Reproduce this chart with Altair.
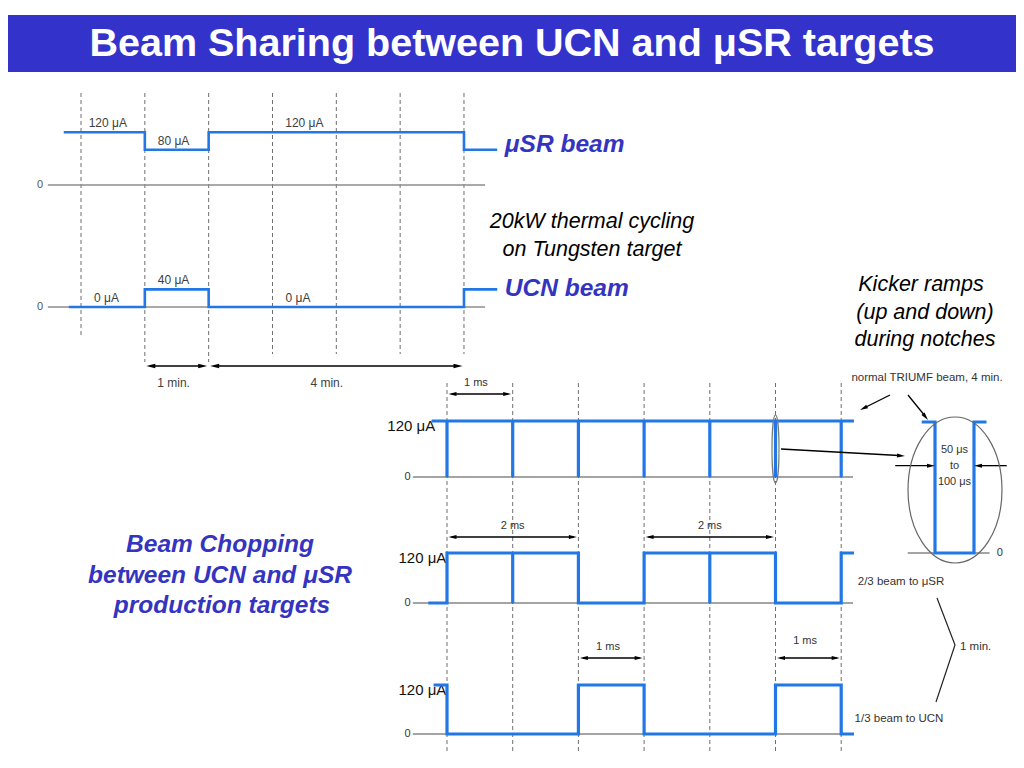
import math
import altair as alt
import pandas as pd

# ---------------------------------------------------------------- data
TITLE = "Beam Sharing between UCN and μSR targets"

# upper timing diagram: time in minutes, beam current in µA
cyc_musr_t = [-0.25, 1, 1, 2, 2, 6, 6, 6.5]
cyc_musr_uA = [120, 120, 80, 80, 120, 120, 80, 80]
cyc_ucn_t = [-0.17, 1, 1, 2, 2, 6, 6, 6.5]
cyc_ucn_uA = [0, 0, 40, 40, 0, 0, 40, 40]
cyc_grid_min = [0, 1, 2, 3, 4, 5, 6]
cyc_axis_min = [-0.52, 6.33]
cyc_label_text = ["120 μA", "80 μA", "120 μA", "0 μA", "40 μA", "0 μA"]
cyc_label_row = ["musr", "musr", "musr", "ucn", "ucn", "ucn"]
cyc_label_t = [0.42, 1.45, 3.5, 0.4, 1.45, 3.4]
cyc_label_uA = [120, 80, 120, 0, 40, 0]
cyc_span_from = [1, 2]
cyc_span_to = [2, 6]
cyc_span_text = ["1 min.", "4 min."]
cyc_span_label_t = [1.45, 3.85]

# lower timing diagrams: time in ms, beam current in µA
chop_grid_ms = [0, 1, 2, 3, 4, 5, 6]
chop_axis_ms = [-0.52, 6.18]
normal_t = [-0.21, 0, 0, 0, 1, 1, 1, 2, 2, 2, 3, 3, 3, 4, 4, 4, 5, 5, 5, 6, 6, 6, 6.17]
normal_uA = [120, 120, 0, 120, 120, 0, 120, 120, 0, 120, 120, 0, 120,
             120, 0, 120, 120, 0, 120, 120, 0, 120, 120]
musr23_t = [-0.26, 0, 0, 1, 1, 1, 2, 2, 3, 3, 4, 4, 4, 5, 5, 6, 6, 6.17]
musr23_uA = [0, 0, 120, 120, 0, 120, 120, 0, 0, 120, 120, 0, 120, 120, 0, 0, 120, 120]
ucn13_t = [-0.18, 0, 0, 2, 2, 3, 3, 5, 5, 6, 6, 6.17]
ucn13_uA = [120, 120, 0, 0, 120, 120, 0, 0, 120, 120, 0, 0]
chop_span_row = ["B", "C", "C", "D", "D"]
chop_span_from = [0, 0, 3, 2, 5]
chop_span_to = [1, 2, 5, 3, 6]
chop_span_text = ["1 ms", "2 ms", "2 ms", "1 ms", "1 ms"]
chop_span_label_t = [0.44, 1.0, 4.0, 2.45, 5.45]
chop_row_labels = ["2/3 beam to μSR", "1/3 beam to UCN"]

# zoom on one notch: time in µs, current in µA
notch_us = [-15, 0, 0, 50, 50, 64]
notch_uA = [120, 120, 0, 0, 120, 120]
notch_axis_us = [-35, 70]
notch_arrow_from = [-51, 92]
notch_arrow_to = [0, 50]
notch_arrow_uA = 80
notch_text = ["50 μs", "to", "100 μs"]
notch_text_uA = [94, 80, 65]

# ---------------------------------------------------------------- layout
W, H = 1008, 746
XS = alt.Scale(domain=[8, 8 + W], range=[0, W], nice=False, zero=False)
YS = alt.Scale(domain=[8, 8 + H], range=[0, H], nice=False, zero=False)

FR = {  # x0, px per time unit, baseline y, px per µA
    "musr": (81.0, 63.83, 185.0, 0.44),
    "ucn": (81.0, 63.83, 307.0, 0.44),
    "B": (447.0, 65.7, 477.0, 56 / 120),
    "C": (447.0, 65.7, 603.0, 50 / 120),
    "D": (447.0, 65.7, 734.0, 49 / 120),
    "Z": (935.0, 0.78, 553.0, 131 / 120),
}


def P(fr, t, v):
    x0, sx, y0, sy = FR[fr]
    return x0 + sx * t, y0 - sy * v


BLUE_LINE = "#2277E6"
BLUE_TEXT = "#3434C0"
BAR = "#3333CC"
FONT = "Liberation Sans"


def xy():
    return dict(x=alt.X("x:Q", scale=XS, axis=None), y=alt.Y("y:Q", scale=YS, axis=None))


def rules(rows, color, width, dash=None):
    df = pd.DataFrame(rows, columns=["x", "y", "x2", "y2"])
    kw = dict(color=color, strokeWidth=width)
    if dash:
        kw["strokeDash"] = dash
    return alt.Chart(df).mark_rule(**kw).encode(
        x2=alt.X2("x2:Q"), y2=alt.Y2("y2:Q"), **xy())


def texts(rows, size, color, weight="normal", style="normal", align="center"):
    df = pd.DataFrame(rows, columns=["x", "y", "text"])
    return alt.Chart(df).mark_text(
        font=FONT, fontSize=size, color=color, fontWeight=weight, fontStyle=style,
        align=align, baseline="middle").encode(text="text:N", **xy())


def wave(fr, ts, vs, g):
    out = []
    for i, (t, v) in enumerate(zip(ts, vs)):
        x, y = P(fr, t, v)
        out.append(dict(x=x, y=y, k=i, g=g))
    return out


def lines(rows, color, width):
    df = pd.DataFrame(rows)
    return alt.Chart(df).mark_line(color=color, strokeWidth=width, strokeJoin="miter",
                                   strokeCap="square").encode(
        order="k:Q", detail="g:N", **xy())


HEAD_PATH = "M 1 0 L -1 -0.5 L -1 0.5 Z"


def head(xt, yt, xf, yf, L):
    dx, dy = xt - xf, yt - yf
    d = math.hypot(dx, dy)
    ux, uy = dx / d, dy / d
    return dict(x=xt - ux * L / 2, y=yt - uy * L / 2,
                ang=math.degrees(math.atan2(dy, dx)) % 360)


def heads(rows, L):
    df = pd.DataFrame(rows)
    return alt.Chart(df).mark_point(shape=HEAD_PATH, filled=True, color="black",
                                    opacity=1, size=L * L, strokeWidth=0).encode(
        angle=alt.Angle("ang:Q", scale=None), **xy())


def ellipse_path(a):
    k = 0.5523
    return (f"M 0 -1 C {k*a:.4f} -1 {a} -{k} {a} 0 C {a} {k} {k*a:.4f} 1 0 1 "
            f"C -{k*a:.4f} 1 -{a} {k} -{a} 0 C -{a} -{k} -{k*a:.4f} -1 0 -1 Z")


def ellipse(cx, cy, rx, ry, color):
    df = pd.DataFrame([dict(x=cx, y=cy)])
    return alt.Chart(df).mark_point(shape=ellipse_path(rx / ry), filled=False, opacity=1,
                                    color=color, strokeWidth=1.2,
                                    size=(2 * ry) ** 2).encode(**xy())


layers = []

# title bar
layers.append(alt.Chart(pd.DataFrame([dict(x=8, x2=8 + W, y=15, y2=72)])).mark_rect(
    color=BAR).encode(x2=alt.X2("x2:Q"), y2=alt.Y2("y2:Q"), **xy()))
layers.append(texts([(512, 44, TITLE)], 39.5, "white", weight="bold"))

# ---- upper diagram
grid_a = []
for t in cyc_grid_min:
    x, _ = P("musr", t, 0)
    bottom = 338 if t == 0 else (362 if t in (1, 2) else 354)
    grid_a.append((x, 93, x, bottom))
layers.append(rules(grid_a, "#6f6f6f", 1, [4, 3]))

axes_a = []
for r in ("musr", "ucn"):
    x1, y1 = P(r, cyc_axis_min[0], 0)
    x2, y2 = P(r, cyc_axis_min[1], 0)
    axes_a.append((x1, y1, x2, y2))
layers.append(rules(axes_a, "#8c8c8c", 1.5))
layers.append(texts([(P(r, -0.64, 0)[0], P(r, -0.64, 0)[1], "0") for r in ("musr", "ucn")],
                    11, "#555555"))

layers.append(lines(wave("musr", cyc_musr_t, cyc_musr_uA, "m") +
                    wave("ucn", cyc_ucn_t, cyc_ucn_uA, "u"), BLUE_LINE, 2.6))

lab_a = []
for s, r, t, v in zip(cyc_label_text, cyc_label_row, cyc_label_t, cyc_label_uA):
    x, y = P(r, t, v)
    lab_a.append((x, y - 9, s))
layers.append(texts(lab_a, 12, "#404040"))

SPAN_Y_A = 366
shaft_a, head_a, span_lab_a = [], [], []
for a, b, s, lt in zip(cyc_span_from, cyc_span_to, cyc_span_text, cyc_span_label_t):
    xa = P("musr", a, 0)[0] + 1.5
    xb = P("musr", b, 0)[0] - 1.5
    shaft_a.append((xa + 4, SPAN_Y_A, xb - 4, SPAN_Y_A))
    head_a.append(head(xb, SPAN_Y_A, xa, SPAN_Y_A, 9))
    head_a.append(head(xa, SPAN_Y_A, xb, SPAN_Y_A, 9))
    span_lab_a.append((P("musr", lt, 0)[0], 383, s))
layers.append(rules(shaft_a, "black", 1.6))
layers.append(heads(head_a, 9))
layers.append(texts(span_lab_a, 12, "#404040"))

# side captions of upper diagram
mx, my = P("musr", 6.64, 90)
ux, uy = P("ucn", 6.64, 40)
layers.append(texts([(mx, my, "μSR beam"), (ux, uy, "UCN beam")], 24.5, BLUE_TEXT,
                    weight="bold", style="italic", align="left"))
layers.append(texts([(592, 222, "20kW thermal cycling"), (592, 250, "on Tungsten target"),
                     (921, 285, "Kicker ramps"), (925, 313, "(up and down)"),
                     (925, 340, "during notches")], 21.5, "black", style="italic"))
layers.append(texts([(220, 545, "Beam Chopping"), (220, 576, "between UCN and μSR"),
                     (222, 606, "production targets")], 24.5, BLUE_TEXT,
                    weight="bold", style="italic"))

# ---- lower diagrams
grid_l = []
for t in chop_grid_ms:
    x, _ = P("B", t, 0)
    grid_l.append((x, 383, x, 755))
layers.append(rules(grid_l, "#6f6f6f", 1, [4, 3]))

axes_l = []
zero_l = []
for r in ("B", "C", "D"):
    x1, y1 = P(r, chop_axis_ms[0], 0)
    x2, y2 = P(r, chop_axis_ms[1], 0)
    axes_l.append((x1, y1, x2, y2))
    zx, zy = P(r, -0.6, 0)
    zero_l.append((zx, zy, "0"))
zx1, zy1 = P("Z", notch_axis_us[0], 0)
zx2, zy2 = P("Z", notch_axis_us[1], 0)
axes_l.append((zx1, zy1, zx2, zy2))
zero_l.append((P("Z", 83, 0)[0], zy1, "0"))
layers.append(rules(axes_l, "#4a4a4a", 1.1))
layers.append(texts(zero_l, 11, "#333333"))

ua = []
for r, t in (("B", -0.18), ("C", -0.01), ("D", -0.01)):
    x, y = P(r, t, 120)
    ua.append((x, y + 5, "120 μA"))
layers.append(texts(ua, 15, "#111111", align="right"))

layers.append(lines(wave("B", normal_t, normal_uA, "b") +
                    wave("C", musr23_t, musr23_uA, "c") +
                    wave("D", ucn13_t, ucn13_uA, "d") +
                    wave("Z", notch_us, notch_uA, "z"), BLUE_LINE, 3.2))

ARROW_UP = {"B": 27, "C": 16, "D": 27}
shaft_l, head_l, span_lab_l = [], [], []
lab_up = [38, 27, 27, 38, 44]
for r, a, b, s, lt, lu in zip(chop_span_row, chop_span_from, chop_span_to,
                              chop_span_text, chop_span_label_t, lab_up):
    xa, y120 = P(r, a, 120)
    xb, _ = P(r, b, 120)
    y = y120 - ARROW_UP[r]
    xa += 1.5
    xb -= 1.5
    shaft_l.append((xa + 3, y, xb - 3, y))
    head_l.append(head(xb, y, xa, y, 8))
    head_l.append(head(xa, y, xb, y, 8))
    span_lab_l.append((P(r, lt, 0)[0], y120 - lu, s))

# notch-width arrows in the zoom
for a, b in zip(notch_arrow_from, notch_arrow_to):
    xa, y = P("Z", a, notch_arrow_uA)
    xb, _ = P("Z", b, notch_arrow_uA)
    shaft_l.append((xa, y, xb - (4 if xb > xa else -4), y))
    head_l.append(head(xb, y, xa, y, 8))

# callouts (page coordinates)
call_lines = [(781, 449, 899, 455.5), (890, 395, 864, 408), (908, 395, 925, 416)]
layers.append(rules(shaft_l + call_lines, "black", 1.3))
head_l.append(head(905, 456, 781, 449, 8))
head_l.append(head(860, 410, 890, 395, 8))
head_l.append(head(928, 420, 908, 395, 8))
layers.append(heads(head_l, 8))
layers.append(texts(span_lab_l, 11, "#333333"))

nt = []
for s, v in zip(notch_text, notch_text_uA):
    x, y = P("Z", 25, v)
    nt.append((x, y, s))
layers.append(texts(nt, 11, "#333333"))

# bracket ">" grouping both chopped diagrams
bracket = [dict(x=937, y=598, k=0, g="br"), dict(x=955, y=645, k=1, g="br"),
           dict(x=936, y=702, k=2, g="br")]
layers.append(alt.Chart(pd.DataFrame(bracket)).mark_line(color="#222222", strokeWidth=1.2).encode(
    order="k:Q", detail="g:N", **xy()))

layers.append(texts([(927, 378, "normal TRIUMF beam, 4 min."),
                     (901, 582, chop_row_labels[0]),
                     (899, 719, chop_row_labels[1])], 11.5, "#333333"))
layers.append(texts([(960, 647, "1 min.")], 11.5, "#333333", align="left"))

# ellipses
layers.append(ellipse(955, 490, 47, 73, "#666666"))
bx, by = P("B", 5, 60)
layers.append(ellipse(bx, by, 3.5, 34, "#777777"))

chart = alt.layer(*layers).properties(
    width=W, height=H, padding=0,
    autosize=alt.AutoSizeParams(type="none"),
).configure_view(stroke=None)

chart.save("out.html", embed_options={"renderer": "svg", "actions": False})
